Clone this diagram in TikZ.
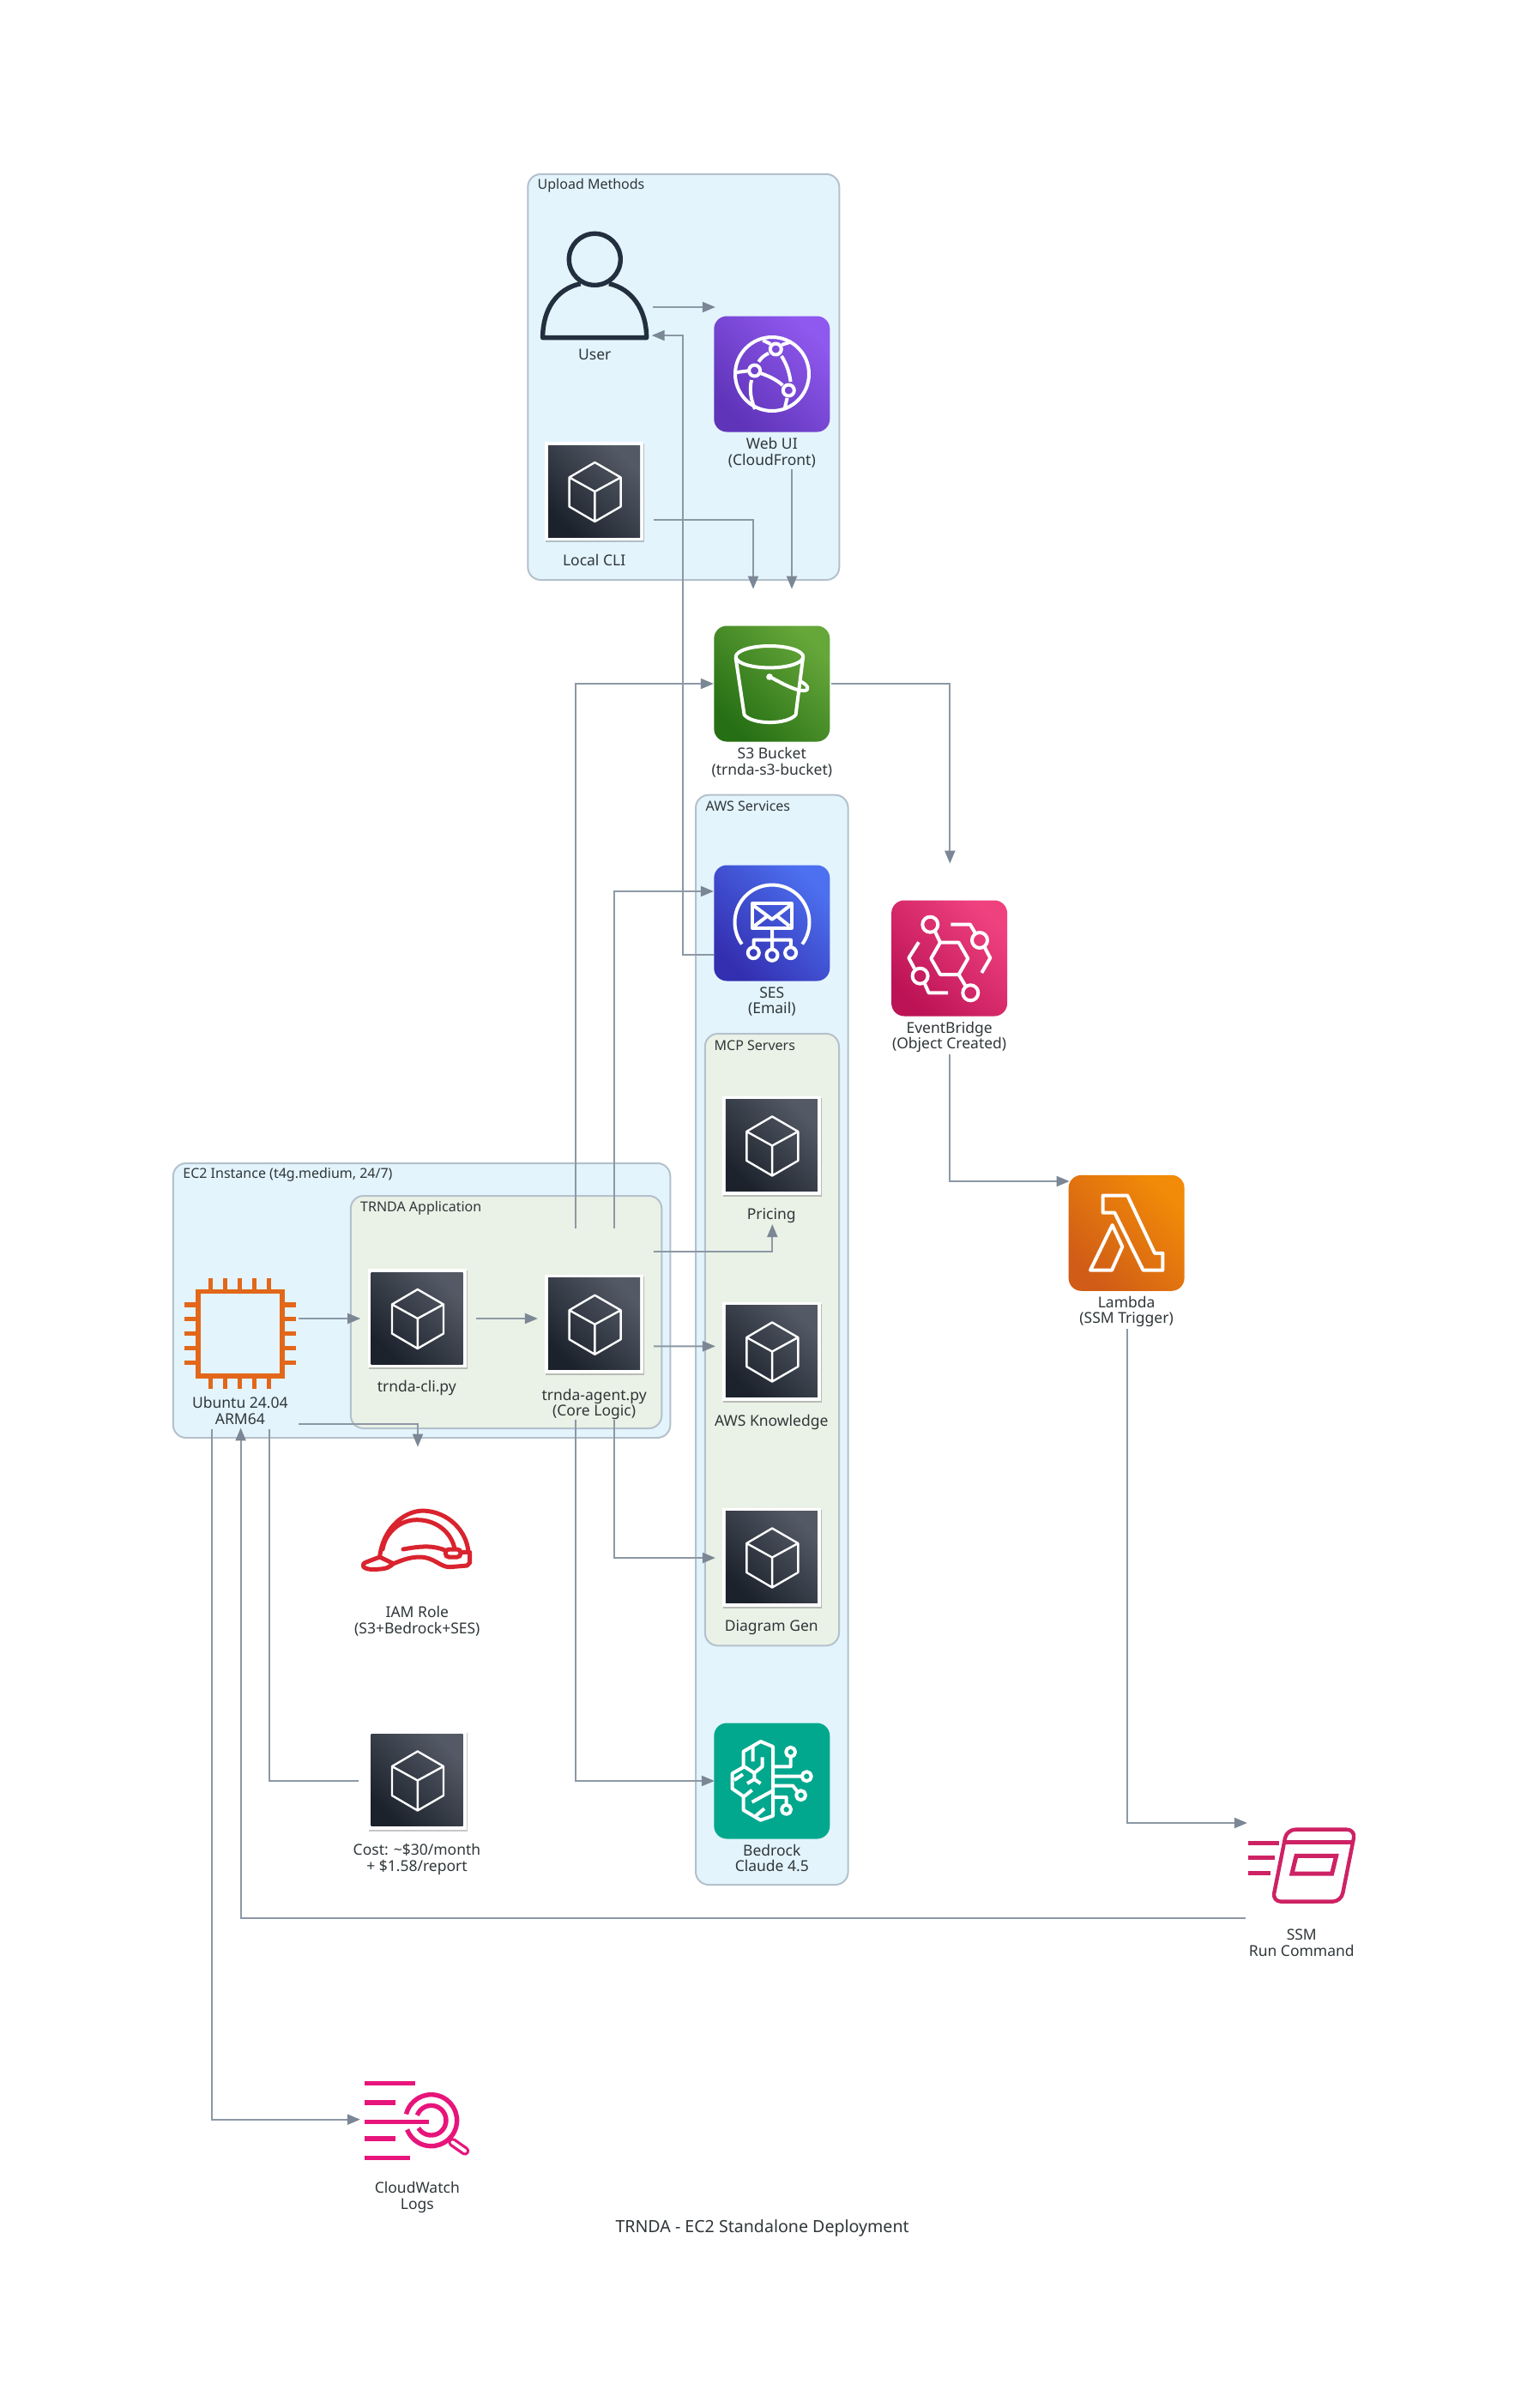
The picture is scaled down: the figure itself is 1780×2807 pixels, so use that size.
\documentclass[tikz,border=0pt]{standalone}
\usepackage{fontspec}
\setmainfont{Noto Sans}
\usetikzlibrary{arrows.meta,calc,shadows}
\definecolor{inkc}{HTML}{2F3639}
\definecolor{linkc}{HTML}{8C98A5}
\definecolor{headc}{HTML}{7B8794}
\definecolor{blueg}{HTML}{E3F4FD}
\definecolor{greeng}{HTML}{EAF1E6}
\definecolor{edgeg}{HTML}{B4C1CC}
\definecolor{DarkA}{HTML}{1B222C}
\definecolor{DarkB}{HTML}{545A65}
\definecolor{DarkUser}{HTML}{232F3E}
\definecolor{BedrockG}{HTML}{01A88D}
\definecolor{ChipC}{HTML}{E2671A}
\definecolor{HatC}{HTML}{D9232E}
\definecolor{SsmC}{HTML}{CE2264}
\definecolor{CwC}{HTML}{E7157B}
\definecolor{WebA}{HTML}{5F34B8}
\definecolor{WebB}{HTML}{8F58EE}
\definecolor{BucketA}{HTML}{266F14}
\definecolor{BucketB}{HTML}{66A73A}
\definecolor{SesA}{HTML}{332FB0}
\definecolor{SesB}{HTML}{4C70F0}
\definecolor{EbA}{HTML}{BC1356}
\definecolor{EbB}{HTML}{F0417F}
\definecolor{LamA}{HTML}{D05C17}
\definecolor{LamB}{HTML}{F28B07}
\tikzset{
  link/.style={draw=linkc,line width=1pt,-{Triangle[length=7.5pt,width=6pt,color=headc]}},
  plainlink/.style={draw=linkc,line width=1pt},
  groupblue/.style={draw=edgeg,line width=1pt,fill=blueg,rounded corners=7.5pt},
  groupgreen/.style={draw=edgeg,line width=1pt,fill=greeng,rounded corners=7.5pt},
  grouplab/.style={anchor=west,inner sep=0pt,text=inkc,font=\fontsize{8}{9}\selectfont},
  lab/.style={align=center,inner sep=0pt,text=inkc,font=\fontsize{8.75}{9.35}\selectfont},
  iconbox/.style={minimum width=67.5pt,minimum height=67.5pt,inner sep=0pt},
  tile/.style n args={2}{iconbox,rounded corners=7.5pt,bottom color=#1,top color=#2,shading angle=-45},
  card/.style={minimum width=57.5pt,minimum height=57.5pt,inner sep=0pt,fill=white,
    drop shadow={shadow xshift=0.6pt,shadow yshift=-1pt,opacity=0.22,fill=black}},
  wline/.style={draw=white,line width=2pt,line join=round,line cap=butt},
  cubeglyph/.pic={
    \shade[bottom color=DarkA,top color=DarkB,shading angle=-45] (-53.5,-53.5) rectangle (53.5,53.5);
    \draw[draw=white,line width=1.2pt,line join=round]
      (0.8,-33.5) -- (31,-16) -- (31,18) -- (0.8,35.5) -- (-29,18) -- (-29,-16) -- cycle
      (-29,-16) -- (0.8,0.5) -- (31,-16) (0.8,0.5) -- (0.8,35.5);
  }
}
\newcommand{\cardat}[2]{\node[card] (#1) at (#2) {}; \pic at (#1) {cubeglyph};}
\begin{document}
\begin{tikzpicture}[x=0.5pt,y=-0.5pt]
\useasboundingbox (0.7,0) rectangle (1780.7,2807);
\fill[white] (0.7,0) rectangle (1780.7,2807);

% groups
\draw[groupblue] (616,203) rectangle (979,676);
\node[grouplab] (g-upload) at (627,216.5) {Upload Methods};
\draw[groupblue] (811.7,926.7) rectangle (989.3,2197);
\node[grouplab] (g-aws) at (823,940) {AWS Services};
\draw[groupgreen] (822.5,1205) rectangle (978.7,1918.3);
\node[grouplab] (g-mcp) at (833,1219) {MCP Servers};
\draw[groupblue] (202.6,1356) rectangle (782,1676);
\node[grouplab] (g-ec2) at (213.7,1369.5) {EC2 Instance (t4g.medium, 24/7)};
\draw[groupgreen] (409.5,1394) rectangle (772,1665);
\node[grouplab] (g-app) at (420.5,1408) {TRNDA Application};

% user
\node[iconbox] (user) at (694,348) {};
\begin{scope}[shift={(590,180)},x=0.16667pt,y=-0.16667pt]
  \draw[draw=DarkUser,line width=2.7pt,line join=round]
    (312,367) circle (90)
    (262,452) .. controls (180,470) and (130,540) .. (130,641) -- (493,641) .. controls (493,540) and (440,470) .. (362,452);
\end{scope}
\node[lab] (l-user) at (694,413) {User};

% web ui
\node[tile={WebA}{WebB}] (web) at (900.5,436) {};
\draw[wline] (900.7,436) circle (43);
\foreach \p in {(905,407),(880.3,432),(920,455)} \draw[wline] \p circle (6.5);
\draw[wline] (885,421.7) .. controls (888,417) and (892,414) .. (896.7,411.7)
  (911.7,415) .. controls (918,425) and (921,435) .. (922.3,445)
  (887,435) .. controls (896,438) and (905,442) .. (913,449)
  (859.3,434) -- (873,432.3)
  (876.7,443) .. controls (874,455) and (876,465) .. (880.7,477)
  (918.3,464) -- (915,477.7)
  (890,396.7) -- (899,401)
  (923.3,398.3) -- (912,402);
\node[lab] (l-web) at (900.5,527.5) {Web UI\\(CloudFront)};

% local cli
\cardat{localcli}{693.3,572.5}
\node[lab] (l-cli) at (693.3,653) {Local CLI};

% s3
\node[tile={BucketA}{BucketB}] (s3) at (900.5,797) {};
\draw[wline] (897.7,765.7) ellipse (39.3 and 12.7);
\draw[wline] (858.3,766.7) -- (868.3,833.3) .. controls (878,845) and (918,845) .. (928.3,833.3) -- (936.7,766.7);
\fill[white] (897.7,789) circle (3.8);
\draw[wline] (900,790) .. controls (915,798) and (930,806) .. (938,805) .. controls (945,805) and (943,798) .. (933,794);
\node[lab] (l-s3) at (900.5,889) {S3 Bucket\\(trnda-s3-bucket)};

% ses
\node[tile={SesA}{SesB}] (ses) at (900.5,1076) {};
\draw[wline] ([shift={(144:43.5)}]900.7,1075) arc (144:396:43.5);
\draw[wline] (877.3,1053.3) rectangle (923.3,1081.7);
\draw[wline] (879,1055.5) -- (900.7,1071.7) -- (921.7,1055.5)
  (880,1079.5) -- (895,1068) (921,1079.5) -- (906.7,1068)
  (900.7,1081.7) -- (900.7,1107) (879.3,1105) -- (879.3,1095.7) -- (922.7,1095.7) -- (922.3,1105);
\foreach \p in {(879,1110.7),(900.7,1113.3),(922.3,1110.7)} \draw[wline] \p circle (6.5);
\node[lab] (l-ses) at (900.5,1167.5) {SES\\(Email)};

% eventbridge
\node[tile={EbA}{EbB}] (ebridge) at (1107.3,1117) {};
\draw[wline] (1086,1117.3) -- (1096.7,1098.7) -- (1118.3,1098.7) -- (1129,1117.3) -- (1118.3,1136) -- (1096.7,1136) -- cycle;
\foreach \p in {(1085,1077.7),(1142.7,1096),(1073.3,1137.7),(1132,1157.3)} \draw[wline] \p circle (9);
\draw[wline] (1090.5,1085.5) -- (1096.7,1098.7) (1118.3,1136) -- (1126,1149)
  (1109,1077.7) -- (1131.7,1077.7) -- (1137.3,1087.3)
  (1148.3,1104) -- (1155,1116.7) -- (1145,1134)
  (1071.7,1098.3) -- (1060,1116.7) -- (1066.7,1129)
  (1078.3,1146) -- (1083.3,1157.3) -- (1105.7,1157.3);
\node[lab] (l-eb) at (1107.3,1209) {EventBridge\\(Object Created)};

% lambda
\node[tile={LamA}{LamB}] (lambda) at (1313.8,1437.3) {};
\draw[wline] (1286.3,1393.6) -- (1315,1393.6) -- (1346.7,1460.8) -- (1356,1460.8) -- (1356,1480.7) -- (1333.3,1480.7) -- (1300,1413.6) -- (1286.3,1413.6) -- cycle;
\draw[wline] (1271.7,1480.7) -- (1297.3,1428) -- (1309,1453.2) -- (1296.7,1480.7) -- cycle;
\node[lab] (l-lambda) at (1313.8,1529) {Lambda\\(SSM Trigger)};

% mcp
\cardat{pricing}{900,1335}
\node[lab] (l-pricing) at (900,1417.5) {Pricing};
\cardat{knowledge}{900,1575}
\node[lab] (l-know) at (900,1657.5) {AWS Knowledge};
\cardat{diagram}{900,1815}
\node[lab] (l-diag) at (900,1897.5) {Diagram Gen};

% bedrock
\node[iconbox,fill=BedrockG,rounded corners=7.5pt] (bedrock) at (900.5,2076) {};
\draw[wline] (901.7,2036) -- (887.3,2030) -- (867.3,2041.7) -- (867.3,2060) -- (854.3,2067.3) -- (854.3,2085) -- (867.3,2094) -- (867.3,2110) -- (887.3,2121.7) -- (901.7,2116.7) -- cycle;
\draw[wline] (878.3,2036) -- (878.3,2053.3)
  (889.3,2048.3) -- (889.3,2059.3) -- (880,2066.7) -- (868.3,2059.3)
  (880,2066.7) -- (880,2074) (871.7,2079) -- (880,2074) -- (887.3,2079)
  (856.7,2075) -- (866.7,2068.3) (868.3,2094) -- (877.3,2086.7)
  (877.3,2100.7) -- (901.7,2087.3) (881.7,2116.7) -- (891.7,2108.3)
  (901.7,2059.3) -- (922.3,2059.3) -- (922.3,2048)
  (901.7,2070.7) -- (935.5,2070.7)
  (901.7,2081.7) -- (925,2081.7) -- (929.5,2087.5)
  (901.7,2095) -- (917.3,2095) -- (917.3,2103.8);
\foreach \p in {(922.3,2042.3),(941,2070.7),(934.3,2092.7),(917.3,2109.3)} \draw[wline] \p circle (5.5);
\node[lab] (l-bedrock) at (900.5,2166) {Bedrock\\Claude 4.5};

% ubuntu chip
\node[iconbox] (ubuntu) at (281,1555) {};
\draw[draw=ChipC,line width=2.7pt] (231.5,1505.5) rectangle (329.5,1604);
\foreach \v in {246,263,280,297,314} \draw[draw=ChipC,line width=2.6pt] (\v,1490) -- (\v,1503) (\v,1606) -- (\v,1619);
\foreach \v in {1521,1537.7,1554.3,1571.3,1588.3} \draw[draw=ChipC,line width=2.6pt] (216,\v) -- (229,\v) (332,\v) -- (346,\v);
\node[lab] (l-ubuntu) at (280.5,1644.5) {Ubuntu 24.04\\ARM64};

% app
\cardat{cli}{486.7,1536.5}
\node[lab] (l-trcli) at (486.5,1617.7) {trnda-cli.py};
\cardat{agent}{693.3,1543.3}
\node[lab] (l-agent) at (693.3,1637) {trnda-agent.py\\(Core Logic)};

% iam hat
\node[iconbox] (iam) at (487,1795) {};
\begin{scope}[shift={(400,1700)},x=0.16667pt,y=-0.16667pt]
  \draw[draw=HatC,line width=2.5pt,line join=round,line cap=round]
    (130,345) .. controls (140,250) and (210,185) .. (280,183) .. controls (370,185) and (435,255) .. (440,328)
    (413,328) -- (445,328) -- (445,365) -- (435,375) -- (375,380) .. controls (340,380) and (320,345) .. (270,345) .. controls (230,345) and (200,360) .. (178,368) .. controls (165,378) and (160,388) .. (110,388) .. controls (70,390) and (60,370) .. (85,362) -- (130,345) -- (178,368)
    (140,318) .. controls (150,260) and (200,215) .. (260,215) .. controls (330,215) and (380,260) .. (392,315)
    (212,318) .. controls (280,305) and (320,305) .. (360,322);
  \draw[draw=HatC,line width=2.5pt,rounded corners=2pt] (360,318) rectangle (413,345);
\end{scope}
\node[lab] (l-iam) at (487,1889.5) {IAM Role\\(S3+Bedrock+SES)};

% cost
\cardat{cost}{486.7,2075}
\node[lab] (l-cost) at (486.7,2167.5) {Cost: \textasciitilde\$30/month\\+ \$1.58/report};

% ssm
\node[iconbox] (ssm) at (1518,2174) {};
\begin{scope}[shift={(1430,2090)},x=0.16667pt,y=-0.16667pt]
  \draw[draw=SsmC,line width=2.2pt,rounded corners=5pt,line join=round]
    (212,128) -- (452,128) -- (402,380) -- (162,380) -- cycle;
  \draw[draw=SsmC,line width=2.2pt] (205,172) -- (445,172);
  \draw[draw=SsmC,line width=2.5pt] (245,220) -- (385,220) -- (370,282) -- (230,282) -- cycle;
  \draw[draw=SsmC,line width=2.7pt] (78,175) -- (185,175) (78,227) -- (170,227) (78,280) -- (155,280);
\end{scope}
\node[lab] (l-ssm) at (1518,2265) {SSM\\Run Command};

% cloudwatch
\node[iconbox] (cwlogs) at (487,2470) {};
\begin{scope}[shift={(400,2390)},x=0.16667pt,y=-0.16667pt]
  \draw[draw=CwC,line width=2.8pt] (76,115) -- (254,115) (76,183) -- (186,183) (76,250) -- (303,250) (76,308) -- (186,308) (76,376) -- (237,376);
  \draw[draw=CwC,line width=2.7pt] ([shift={(194:90)}]310,245) arc (194:519:90);
  \draw[draw=CwC,line width=2.7pt] ([shift={(200:52)}]310,245) arc (200:509:52);
  \draw[draw=CwC,line width=5.3pt,line cap=round] (385,322) -- (428,352);
  \draw[draw=white,line width=2pt,line cap=round] (385,322) -- (428,352);
\end{scope}
\node[lab] (l-cw) at (487,2561.7) {CloudWatch\\Logs};

% title
\node[inner sep=0pt,text=inkc,font=\fontsize{9.8}{12}\selectfont] (title) at (889.3,2597.5) {TRNDA - EC2 Standalone Deployment};

% connectors
\draw[link] ($(user.east)+(0,10)$) -- ($(web.west)+(2,-78)$);
\draw[link] ($(ses.west)+(0,37)$) -- ++(-36,0) |- ($(user.east)+(-1.5,43)$);
\draw[link] ($(localcli.east)+(11.2,33.5)$) -| ($(s3.north)+(-21.8,-42.5)$);
\draw[link] ($(web.south)+(23.2,43.5)$) -- ($(s3.north)+(23.2,-42.5)$);
\draw[link] ($(agent.north)+(-21.3,-53)$) |- (s3.west);
\draw[link] ($(agent.north)+(23.7,-53)$) |- ($(ses.west)+(0,-37)$);
\draw[link] ($(agent.south)+(-21.3,54.2)$) |- ($(bedrock.west)+(1,0)$);
\draw[link] ($(agent.south)+(23.7,54.2)$) |- ($(diagram.west)+(-7.5,1)$);
\draw[link] ($(agent.east)+(11.7,-84.6)$) -| ($(pricing.south)+(1,34.2)$);
\draw[link] ($(agent.east)+(11.7,26)$) -- ($(knowledge.west)+(-7.5,-5.7)$);
\draw[link] ($(ubuntu.east)+(0,-18)$) -- ($(cli.west)+(-7.9,0.5)$);
\draw[link] ($(cli.east)+(10.8,0.5)$) -- ($(agent.west)+(-7.8,-6.3)$);
\draw[link] ($(ubuntu.east)+(0,105)$) -| ($(iam.north)+(0.7,-40.5)$);
\draw[link] ($(ubuntu.south)+(-33,43.5)$) |- ($(cwlogs.west)+(1.5,0.7)$);
\draw[link] ($(ssm.west)+(2.5,61.7)$) -| ($(ubuntu.south)+(0.3,41.5)$);
\draw[plainlink] ($(ubuntu.south)+(34,43.5)$) |- ($(cost.west)+(-10,1)$);
\draw[link] ($(s3.east)+(1,0)$) -| ($(ebridge.north)+(0.7,-42.5)$);
\draw[link] ($(ebridge.south)+(0.4,43.8)$) |- ($(lambda.west)+(1.4,-60.3)$);
\draw[link] ($(lambda.south)+(0.5,43.8)$) |- ($(ssm.west)+(4.5,-49)$);
\end{tikzpicture}
\end{document}
